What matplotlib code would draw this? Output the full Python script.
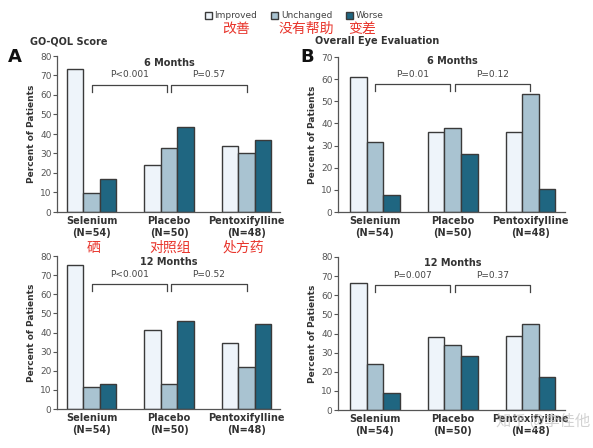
import matplotlib
matplotlib.use("Agg")
import matplotlib.pyplot as plt
from matplotlib.patches import Patch
import numpy as np

plt.rcParams['font.family'] = ['DejaVu Sans', 'Noto Sans CJK SC']

groups = ["Selenium\n(N=54)", "Placebo\n(N=50)", "Pentoxifylline\n(N=48)"]
series = ["Improved", "Unchanged", "Worse"]
series_cn = ["改善", "没有帮助", "变差"]
groups_cn = ["硒", "对照组", "处方药"]

# Panel A: GO-QOL Score
a6_improved = [73.5, 24, 34]
a6_unchanged = [9.5, 33, 30]
a6_worse = [17, 43.5, 37]
a12_improved = [75.5, 41.5, 34.5]
a12_unchanged = [11.5, 13, 22]
a12_worse = [13, 46, 44.5]
# Panel B: Overall Eye Evaluation
b6_improved = [61, 36, 36]
b6_unchanged = [31.5, 38, 53.5]
b6_worse = [7.5, 26, 10.5]
b12_improved = [66.5, 38, 38.5]
b12_unchanged = [24, 34, 45]
b12_worse = [9, 28, 17.5]

pvals_a6 = ["P<0.001", "P=0.57"]
pvals_a12 = ["P<0.001", "P=0.52"]
pvals_b6 = ["P=0.01", "P=0.12"]
pvals_b12 = ["P=0.007", "P=0.37"]

colors = ["#eef4fa", "#a9c3d1", "#1f6681"]
edge = "#3a3a3a"
red = "#e8342b"

W, H = 593, 448
fig = plt.figure(figsize=(W / 100, H / 100), dpi=100)

def px_axes(x0, x1, ytop, ybot):
    return fig.add_axes([x0 / W, 1 - ybot / H, (x1 - x0) / W, (ybot - ytop) / H])

def draw(ax, imp, unc, wor, ymax, pvals, title, xl, xr, br_y, tx_y, title_y):
    x = np.arange(len(groups))
    w = 0.213
    for i, vals in enumerate([imp, unc, wor]):
        ax.bar(x + (i - 1) * w, vals, w, color=colors[i], edgecolor=edge, linewidth=1.0)
    ax.set_xlim(xl, xr)
    ax.set_ylim(0, ymax)
    ax.set_yticks(np.arange(0, ymax + 1, 10))
    ax.tick_params(axis='y', labelsize=6.5, colors='#555555', length=3, width=0.8, pad=1)
    ax.tick_params(axis='x', length=0, pad=3)
    ax.set_xticks(x)
    ax.set_xticklabels(groups, fontsize=7, fontweight='bold', color='#333333', linespacing=1.25)
    for s in ['top', 'right']:
        ax.spines[s].set_visible(False)
    for s in ['left', 'bottom']:
        ax.spines[s].set_color('#555555')
        ax.spines[s].set_linewidth(0.9)
    ax.set_ylabel("Percent of Patients", fontsize=6.5, fontweight='bold', color='#333333', labelpad=3)
    # brackets
    d = ymax * 0.045
    for (a, b), p in zip([(0.0, 0.97), (1.03, 2.0)], pvals):
        ax.plot([a, a, b, b], [br_y - d, br_y, br_y, br_y - d], color='#444444', lw=0.9, clip_on=False)
        ax.text((a + b) / 2, tx_y, p, ha='center', va='center', fontsize=6.5, color='#444444')
    ax.text(1.0, title_y, title, ha='center', va='center', fontsize=7, fontweight='bold', color='#333333')

axA1 = px_axes(57, 280, 56, 212)
draw(axA1, a6_improved, a6_unchanged, a6_worse, 80, pvals_a6, "6 Months", -0.445, 2.43, 65, 70.5, 76.5)
axB1 = px_axes(338, 565, 57, 212)
draw(axB1, b6_improved, b6_unchanged, b6_worse, 70, pvals_b6, "6 Months", -0.476, 2.445, 57.7, 62, 68)
axA2 = px_axes(57, 280, 256, 409)
draw(axA2, a12_improved, a12_unchanged, a12_worse, 80, pvals_a12, "12 Months", -0.445, 2.43, 65.4, 70.3, 77)
axB2 = px_axes(338, 565, 257, 410)
draw(axB2, b12_improved, b12_unchanged, b12_worse, 80, pvals_b12, "12 Months", -0.476, 2.445, 65.4, 70.5, 77)

# panel labels and titles
fig.text(8 / W, 1 - 57 / H, "A", fontsize=13, fontweight='bold', va='center', color='#111111')
fig.text(300 / W, 1 - 57 / H, "B", fontsize=13, fontweight='bold', va='center', color='#111111')
fig.text(30 / W, 1 - 41 / H, "GO-QOL Score", fontsize=7, fontweight='bold', va='center', color='#333333')
fig.text(315 / W, 1 - 41 / H, "Overall Eye Evaluation", fontsize=7, fontweight='bold', va='center', color='#333333')

# legend
handles = [Patch(facecolor=c, edgecolor=edge, linewidth=1.0) for c in colors]
leg = fig.legend(handles, series, loc='center', bbox_to_anchor=(294 / W, 1 - 16 / H), ncol=3,
                 frameon=False, fontsize=6.5, handlelength=0.8, handleheight=0.8,
                 handletextpad=0.3, columnspacing=1.5, borderpad=0.2)
for t in leg.get_texts():
    t.set_color('#444444')

# red chinese annotations
for xp, s in zip([236, 306, 362], series_cn):
    fig.text(xp / W, 1 - 29 / H, s, fontsize=10, color=red, ha='center', va='center',
             family=['Noto Sans CJK SC', 'DejaVu Sans'])
for xp, s in zip([94, 170, 243], groups_cn):
    fig.text(xp / W, 1 - 248 / H, s, fontsize=10, color=red, ha='center', va='center',
             family=['Noto Sans CJK SC', 'DejaVu Sans'])

# watermark
fig.text(543 / W, 1 - 421 / H, "知乎 @李佳他", fontsize=11, color='#c4c4c4', alpha=0.75,
         ha='center', va='center', family=['Noto Sans CJK SC', 'DejaVu Sans'])

fig.savefig("out.png", dpi=100, facecolor='white')
